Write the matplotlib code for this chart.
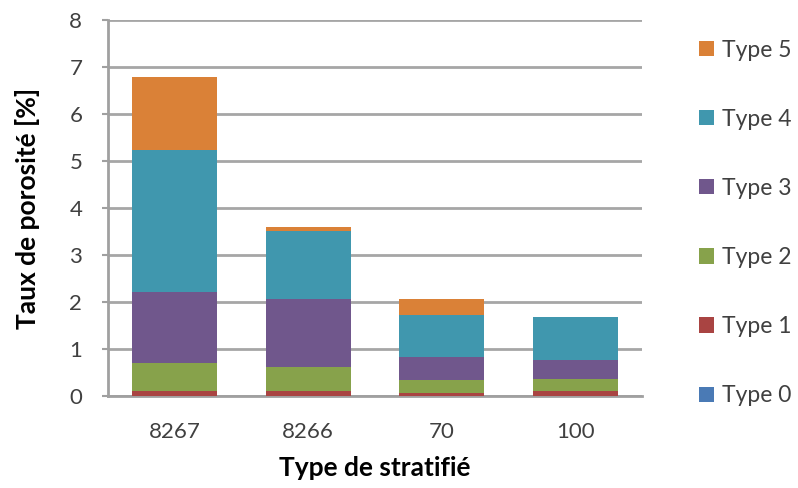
import matplotlib
matplotlib.use("Agg")
import matplotlib.pyplot as plt
import numpy as np

plt.rcParams['font.family'] = ['Lato', 'DejaVu Sans']

categories = ["8267", "8266", "70", "100"]
series_names = ["Type 0", "Type 1", "Type 2", "Type 3", "Type 4", "Type 5"]
type0 = [0.0, 0.0, 0.0, 0.0]
type1 = [0.10, 0.10, 0.07, 0.10]
type2 = [0.61, 0.51, 0.26, 0.27]
type3 = [1.50, 1.45, 0.51, 0.39]
type4 = [3.03, 1.46, 0.89, 0.92]
type5 = [1.55, 0.08, 0.33, 0.0]
colors = ["#4a7ab5", "#a94442", "#87a24b", "#70578c", "#4097ae", "#da8137"]
yticks = [0, 1, 2, 3, 4, 5, 6, 7, 8]

fig = plt.figure(figsize=(7.98, 4.88), dpi=100)
ax = fig.add_axes([108/798, 1 - 396/488, (642-108)/798, (396-20)/488])

x = np.arange(len(categories))
bottom = np.zeros(len(categories))
handles = []
for name, vals, c in zip(series_names, [type0, type1, type2, type3, type4, type5], colors):
    b = ax.bar(x, vals, bottom=bottom, width=0.64, color=c, label=name, zorder=3)
    handles.append(b)
    bottom += np.array(vals)

ax.set_xlim(-0.5, len(categories) - 0.5)
ax.set_ylim(0, 8)
ax.set_yticks(yticks)
ax.set_xticks(x)
ax.set_xticklabels(categories)
ax.yaxis.grid(True, color="#a6a6a6", linewidth=2, zorder=0)
ax.set_axisbelow(True)
for s in ["top", "right"]:
    ax.spines[s].set_visible(False)
for s in ["left", "bottom"]:
    ax.spines[s].set_color("#a0a0a0")
    ax.spines[s].set_linewidth(2)
ax.tick_params(axis="y", length=4, width=1.5, color="#a0a0a0", labelsize=16, labelcolor="#404040", pad=14.5)
ax.tick_params(axis="x", length=0, labelsize=16, labelcolor="#404040", pad=19)
ax.set_ylabel("Taux de porosité [%]", fontsize=19, fontweight="bold", labelpad=21)
ax.set_xlabel("Type de stratifié", fontsize=19, fontweight="bold", labelpad=10)

leg = fig.legend(handles[::-1], series_names[::-1], loc="upper left",
                 bbox_to_anchor=(678/798, 1 - 19/488), frameon=False,
                 fontsize=16.5, labelspacing=2.1, handlelength=0.65, handleheight=0.65,
                 handletextpad=0.35, labelcolor="#404040")

fig.savefig("out.png", dpi=100)
